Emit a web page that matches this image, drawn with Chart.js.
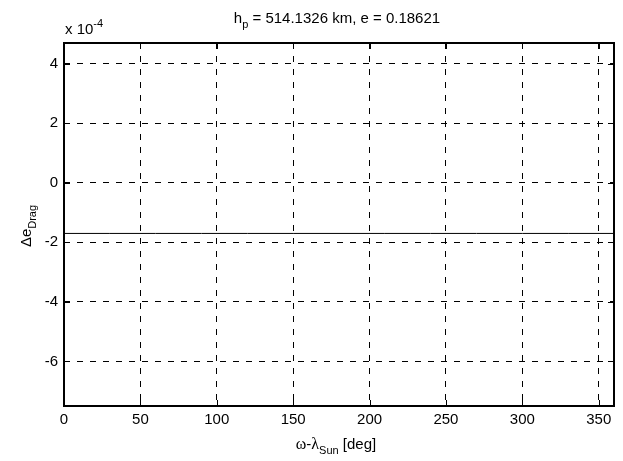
<!DOCTYPE html>
<html>
<head>
<meta charset="utf-8">
<script src="https://cdn.jsdelivr.net/npm/chart.js@4/dist/chart.umd.min.js"></script>
<style>
  html, body { margin: 0; padding: 0; background: #fff; }
</style>
</head>
<body>
<canvas id="dragChart" width="623" height="461"></canvas>
<script>
    // data (delta e due to drag vs. omega - lambda_sun)
    const angles = [0, 30, 60, 90, 120, 150, 180, 210, 240, 270, 300, 330, 360];
    const deltaE = [-1.70e-4, -1.70e-4, -1.70e-4, -1.70e-4, -1.70e-4, -1.70e-4, -1.70e-4,
                    -1.70e-4, -1.70e-4, -1.70e-4, -1.70e-4, -1.70e-4, -1.70e-4];
    const xTicks = [0, 50, 100, 150, 200, 250, 300, 350];
    const yTicks = [-6e-4, -4e-4, -2e-4, 0, 2e-4, 4e-4];
    const xRange = [0, 360];
    const yRange = [-7.5e-4, 4.7e-4];

    const SANS = '"Liberation Sans", Arial, Helvetica, sans-serif';
    const SERIF = '"Liberation Serif", "Times New Roman", serif';

    // draws a run of text pieces, each with its own font and baseline shift
    function drawRich(ctx, parts, x, y) {
        let w = 0;
        parts.forEach(p => { ctx.font = p[1]; w += ctx.measureText(p[0]).width; });
        let cx = x - w / 2;
        parts.forEach(p => {
            ctx.font = p[1];
            ctx.fillText(p[0], cx, y + p[2]);
            cx += ctx.measureText(p[0]).width;
        });
    }

    const matlabFrame = {
        id: 'matlabFrame',
        afterDraw(chart) {
            const ctx = chart.ctx;
            const a = chart.chartArea;
            const xs = chart.scales.x, ys = chart.scales.y;
            const L = Math.round(a.left), R = Math.round(a.right);
            const T = Math.round(a.top), B = Math.round(a.bottom);
            ctx.save();
            ctx.fillStyle = '#000';

            // inward tick marks on all four sides
            xTicks.forEach(v => {
                const px = Math.round(xs.getPixelForValue(v));
                ctx.fillRect(px, B - 6, 1, 6);
                ctx.fillRect(px, T, 1, 6);
            });
            yTicks.forEach(v => {
                const py = Math.round(ys.getPixelForValue(v));
                ctx.fillRect(L, py, 6, 1);
                ctx.fillRect(R - 6, py, 6, 1);
            });

            // box
            ctx.fillRect(L - 1, T - 1, R - L + 2, 2);
            ctx.fillRect(L - 1, B - 1, R - L + 2, 2);
            ctx.fillRect(L - 1, T - 1, 2, B - T + 2);
            ctx.fillRect(R - 1, T - 1, 2, B - T + 2);

            ctx.textAlign = 'left';
            ctx.textBaseline = 'alphabetic';
            const big = '15px ' + SANS, small = '11px ' + SANS;

            // title
            drawRich(ctx, [['h', big, 0], ['p', small, 5], [' = 514.1326 km, e = 0.18621', big, 0]], 337, 23);

            // exponent label
            ctx.font = big;
            ctx.fillText('x 10', 65, 34);
            const w10 = ctx.measureText('x 10').width;
            ctx.font = small;
            ctx.fillText('-4', 65 + w10, 27);

            // x axis title
            drawRich(ctx, [['\u03c9', '16px ' + SERIF, 0], ['-', big, 0], ['\u03bb', '16px ' + SERIF, 0],
                           ['Sun', small, 5], [' [deg]', big, 0]], 336, 449);

            // y axis title
            ctx.translate(31, 226);
            ctx.rotate(-Math.PI / 2);
            drawRich(ctx, [['\u0394e', big, 0], ['Drag', small, 5]], 0, 0);
            ctx.restore();
        }
    };

    Chart.defaults.font.family = SANS;
    Chart.defaults.font.size = 15;
    Chart.defaults.color = '#000';

    const ctx = document.getElementById('dragChart').getContext('2d');
    new Chart(ctx, {
        type: 'line',
        data: {
            datasets: [{
                data: angles.map((x, i) => ({ x: x, y: deltaE[i] })),
                borderColor: '#000',
                borderWidth: 1,
                pointRadius: 0,
                fill: false,
                tension: 0
            }]
        },
        options: {
            responsive: false,
            animation: false,
            devicePixelRatio: 1,
            layout: { padding: { top: 43, right: 9, left: 0, bottom: 0 } },
            plugins: {
                legend: { display: false },
                tooltip: { enabled: false }
            },
            scales: {
                x: {
                    type: 'linear',
                    min: xRange[0],
                    max: xRange[1],
                    afterBuildTicks: s => { s.ticks = xTicks.map(v => ({ value: v })); },
                    afterFit: s => { s.height = 55; },
                    ticks: { padding: 5, maxRotation: 0, autoSkip: false, callback: v => String(v) },
                    grid: { color: '#000', lineWidth: 1, drawTicks: false },
                    border: { display: false, dash: [6, 7] }
                },
                y: {
                    type: 'linear',
                    min: yRange[0],
                    max: yRange[1],
                    afterBuildTicks: s => { s.ticks = yTicks.map(v => ({ value: v })); },
                    afterFit: s => { s.width = 64; },
                    ticks: { padding: 6, autoSkip: false, callback: v => String(Math.round(v / 1e-4)) },
                    grid: { color: '#000', lineWidth: 1, drawTicks: false },
                    border: { display: false, dash: [6, 7] }
                }
            }
        },
        plugins: [matlabFrame]
    });
</script>
</body>
</html>
